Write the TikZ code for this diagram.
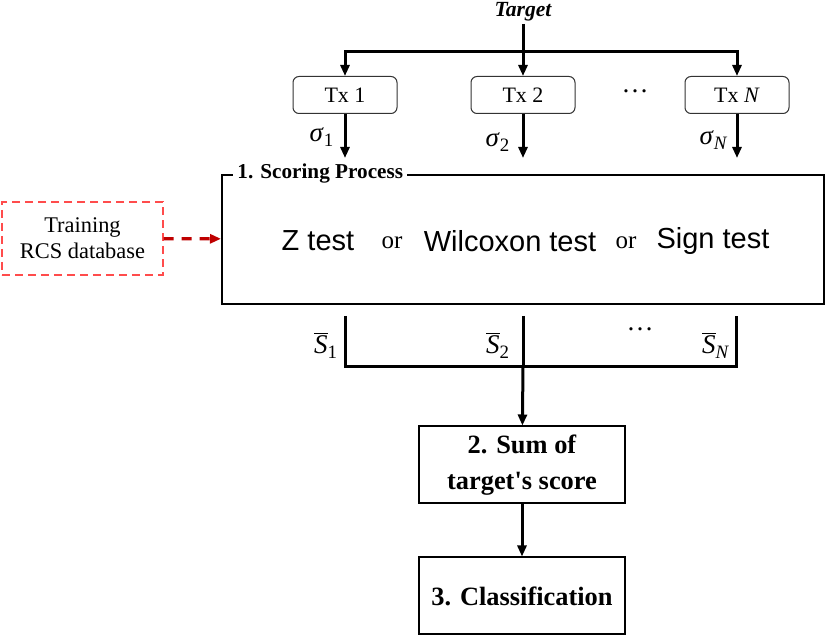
\documentclass[tikz,border=0pt]{standalone}
\usepackage{fontspec}
\setmainfont{Liberation Serif}
\newfontfamily\arialfont{Liberation Sans}
\usetikzlibrary{arrows.meta}
\newcommand{\sbar}[1]{\ensuremath{\overline{\mbox{\textit{S}}}}\textsubscript{#1}}
\begin{document}
\begin{tikzpicture}[x=0.5pt,y=-0.5pt,
  arr/.style={line width=1.5pt,-{Triangle[length=5.5pt,width=4.5pt]}},
  wire/.style={line width=1.5pt},
  txbox/.style={draw=black!80,rounded corners=3pt,line width=0.5pt,minimum width=52pt,minimum height=18.5pt,inner sep=0pt,font=\fontsize{11}{13}\selectfont},
  stepbox/.style={draw,line width=1pt,minimum width=103pt,minimum height=38.5pt,inner sep=0pt,align=center,font=\fontsize{13.2}{18}\selectfont\bfseries},
  lbl/.style={inner sep=0pt,font=\fontsize{13.5}{15}\selectfont},
  big/.style={inner sep=0pt,font=\fontsize{14.5}{17}\selectfont\arialfont},
  small/.style={inner sep=0pt,font=\fontsize{12.5}{14}\selectfont}]
\useasboundingbox (0,0) rectangle (827,636);
% top: target and transmitters
\node[font=\fontsize{10.8}{12}\selectfont\bfseries\itshape, inner sep=1pt] (target) at (523,12){Target};
\coordinate (tsplit) at (523,52);
\node[txbox] (tx1) at (345,95){Tx 1};
\node[txbox] (tx2) at (523,95){Tx 2};
\node[txbox] (txN) at (737,95){Tx \textit{N}};
\node[lbl] (dots1) at (635,91){…};
\draw[wire](target) -- (tsplit);
\draw[arr](tsplit) -| (tx1);
\draw[arr](tsplit) -- (tx2);
\draw[arr](tsplit) -| (txN);
\coordinate (sig1) at (345,158);
\coordinate (sig2) at (523,158);
\coordinate (sigN) at (737,158);
\draw[arr](tx1) -- (sig1);
\draw[arr](tx2) -- (sig2);
\draw[arr](txN) -- (sigN);
\node[lbl] (lsig1) at (322,137){\textit{σ}\textsubscript{1}};
\node[lbl] (lsig2) at (498,142){\textit{σ}\textsubscript{2}};
\node[lbl] (lsigN) at (714,140){\textit{σ}\textsubscript{\textit{N}}};
% scoring process
\node[draw, line width=1pt, minimum width=301pt, minimum height=64.5pt, inner sep=0pt] (score) at (523,239.5){};
\node[fill=white, anchor=west, inner sep=2pt, font=\fontsize{10.6}{12}\selectfont\bfseries] (title) at (233,173){1. Scoring Process};
\node[big] (ztest) at (318,241){Z test};
\node[small] (or1) at (392,243){or};
\node[big] (wilc) at (510,241){Wilcoxon test};
\node[small] (or2) at (626,243){or};
\node[big] (sign) at (713,241){Sign test};
% training database
\node[draw=red!70, dashed, dash pattern=on 4pt off 2.5pt, line width=0.7pt, minimum width=80.5pt, minimum height=36.5pt, align=center, font=\fontsize{11.2}{13}\selectfont] (train) at (82.5,238.5){Training\\RCS database};
\draw[line width=1.6pt, color=red!75!black, dash pattern=on 5pt off 4pt, -{Triangle[length=5.5pt,width=4.5pt]}](train) -- (score);
% scores
\coordinate (s1top) at (345,316);
\coordinate (s1bot) at (345,367);
\coordinate (s2top) at (523,316);
\coordinate (s2bot) at (523,367);
\coordinate (sNtop) at (736,316);
\coordinate (sNbot) at (736,367);
\draw[wire](s1top) -- (s1bot) -- (sNbot) -- (sNtop);
\draw[wire](s2top) -- (s2bot);
\node[lbl] (ls1) at (326,345){\sbar{1}};
\node[lbl] (ls2) at (498,345){\sbar{2}};
\node[lbl] (lsN) at (716,345){\sbar{\textit{N}}};
\node[lbl] (dots2) at (640,329){…};
% steps 2 and 3
\node[stepbox] (sum) at (522,465){2. Sum of\\target\textquotesingle s score};
\node[stepbox] (cls) at (522,596){3. Classification};
\draw[arr](s2bot) -- (sum);
\draw[arr](sum) -- (cls);
\end{tikzpicture}
\end{document}
